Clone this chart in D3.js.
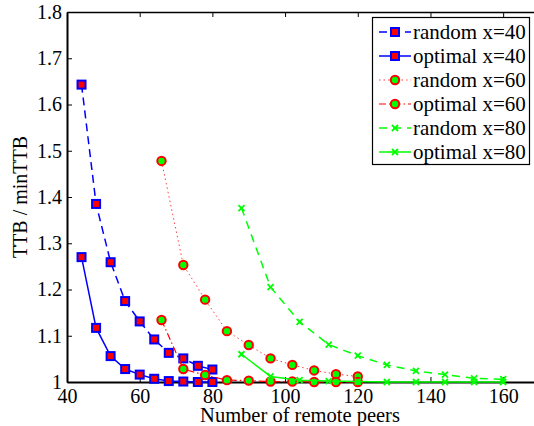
<!DOCTYPE html>
<html>
<head>
<meta charset="utf-8">
<script src="https://cdn.jsdelivr.net/npm/d3@7"></script>
<style>
  body { margin: 0; background: #fff; }
</style>
</head>
<body>
<div id="viz1"></div>
<script>
var width = 534;
var height = 426;
var serif = "'Liberation Serif', 'Times New Roman', Times, serif";

// x values (number of remote peers) for each x group
var peers40 = [44, 48, 52, 56, 60, 64, 68, 72, 76, 80];
var peers60 = [66, 72, 78, 84, 90, 96, 102, 108, 114, 120];
var peers80 = [88, 96, 104, 112, 120, 128, 136, 144, 152, 160];

// TTB / minTTB
var random40 = [1.643, 1.385, 1.259, 1.175, 1.131, 1.092, 1.063, 1.051, 1.035, 1.027];
var optimal40 = [1.270, 1.117, 1.056, 1.028, 1.016, 1.007, 1.002, 1.001, 1.000, 1.000];
var random60 = [1.478, 1.253, 1.178, 1.110, 1.080, 1.051, 1.037, 1.025, 1.017, 1.012];
var optimal60 = [1.134, 1.028, 1.015, 1.004, 1.003, 1.001, 1.001, 1.000, 1.000, 1.000];
var random80 = [1.376, 1.205, 1.130, 1.081, 1.057, 1.037, 1.024, 1.016, 1.008, 1.006];
var optimal80 = [1.060, 1.012, 1.004, 1.002, 1.001, 1.000, 1.000, 1.000, 1.000, 1.000];

var xTicks = [40, 60, 80, 100, 120, 140, 160];
var yTicks = [1, 1.1, 1.2, 1.3, 1.4, 1.5, 1.6, 1.7, 1.8];
var seriesNames = ["random x=40", "optimal x=40", "random x=60", "optimal x=60", "random x=80", "optimal x=80"];

var series = [
  { name: seriesNames[0], xs: peers40, ys: random40, color: "#0000ff", dash: "8,5", width: 1.5, marker: "square" },
  { name: seriesNames[1], xs: peers40, ys: optimal40, color: "#0000ff", dash: null, width: 1.5, marker: "square" },
  { name: seriesNames[2], xs: peers60, ys: random60, color: "#ff4040", dash: "1.5,3", width: 1, marker: "circle" },
  { name: seriesNames[3], xs: peers60, ys: optimal60, color: "#ff0000", dash: "7,3,1.5,3", width: 1.2, marker: "circle" },
  { name: seriesNames[4], xs: peers80, ys: random80, color: "#00ff00", dash: "8,6", width: 1.5, marker: "cross" },
  { name: seriesNames[5], xs: peers80, ys: optimal80, color: "#00ff00", dash: null, width: 1.5, marker: "cross" }
];

var margin = { left: 67, top: 12, bottom: 382 };

var x = d3.scaleLinear().domain([40, 170]).range([margin.left, 539.5]);
var y = d3.scaleLinear().domain([1, 1.8]).range([margin.bottom, margin.top]);

var svg = d3.select("#viz1")
  .append("svg")
    .attr("width", width)
    .attr("height", height)
    .attr("font-family", serif)
    .style("background-color", "#ffffff");

// axes, ticks pointing inwards like matlab
svg.append("g")
  .attr("transform", "translate(0," + margin.bottom + ")")
  .call(d3.axisBottom(x).tickValues(xTicks).tickSizeInner(-5).tickSizeOuter(0).tickPadding(7).tickFormat(d3.format("d")))
  .call(function(g) { g.select(".domain").attr("stroke-width", 2); });

svg.append("g")
  .attr("transform", "translate(0," + margin.top + ")")
  .call(d3.axisTop(x).tickValues(xTicks).tickSizeInner(-5).tickSizeOuter(0).tickFormat(""))
  .call(function(g) { g.select(".domain").attr("stroke-width", 1.5); });

svg.append("g")
  .attr("transform", "translate(" + margin.left + ",0)")
  .call(d3.axisLeft(y).tickValues(yTicks).tickSizeInner(-5).tickSizeOuter(0).tickPadding(5).tickFormat(function(d) { return d3.format("")(+d.toFixed(1)); }))
  .call(function(g) { g.select(".domain").attr("stroke-width", 2); });

svg.append("g")
  .attr("transform", "translate(" + x(170) + ",0)")
  .call(d3.axisRight(y).tickValues(yTicks).tickSizeInner(-5).tickSizeOuter(0).tickFormat(""))
  .call(function(g) { g.select(".domain").attr("stroke-width", 1.5); });

svg.selectAll("g").attr("font-family", serif);
svg.selectAll(".tick text")
  .attr("font-size", 20)
  .attr("font-family", serif)
  .attr("fill", "#000");

// axis titles
svg.append("text")
  .attr("x", 300)
  .attr("y", 422)
  .attr("text-anchor", "middle")
  .attr("font-family", serif)
  .attr("font-size", 20.5)
  .text("Number of remote peers");

svg.append("text")
  .attr("transform", "translate(27,197) rotate(-90)")
  .attr("text-anchor", "middle")
  .attr("font-family", serif)
  .attr("font-size", 20)
  .text("TTB / minTTB");

function drawMarker(g, type, cx, cy) {
  if (type == "square") {
    g.append("rect")
      .attr("x", cx - 4).attr("y", cy - 4)
      .attr("width", 8).attr("height", 8)
      .attr("fill", "#ff0000")
      .attr("stroke", "#0000ff")
      .attr("stroke-width", 2);
  } else if (type == "circle") {
    g.append("circle")
      .attr("cx", cx).attr("cy", cy).attr("r", 4.2)
      .attr("fill", "#00ff00")
      .attr("stroke", "#ff0000")
      .attr("stroke-width", 2);
  } else {
    g.append("path")
      .attr("d", "M" + (cx - 3) + "," + (cy - 3) + "L" + (cx + 3) + "," + (cy + 3) +
                 "M" + (cx - 3) + "," + (cy + 3) + "L" + (cx + 3) + "," + (cy - 3))
      .attr("stroke", "#00ff00")
      .attr("stroke-width", 1.8)
      .attr("fill", "none");
  }
}

var line = d3.line()
  .x(function(d) { return x(d[0]); })
  .y(function(d) { return y(d[1]); });

series.forEach(function(s) {
  var pts = s.xs.map(function(v, i) { return [v, s.ys[i]]; });
  var g = svg.append("g");
  g.append("path")
    .datum(pts)
    .attr("d", line)
    .attr("fill", "none")
    .attr("stroke", s.color)
    .attr("stroke-width", s.width)
    .attr("stroke-dasharray", s.dash);
  pts.forEach(function(p) {
    drawMarker(g, s.marker, x(p[0]), y(p[1]));
  });
});

// legend
var legend = svg.append("g");
legend.append("rect")
  .attr("x", 372.5).attr("y", 17.5)
  .attr("width", 157).attr("height", 147)
  .attr("fill", "#fff")
  .attr("stroke", "#000")
  .attr("stroke-width", 1.2);

series.forEach(function(s, i) {
  var cy = 32 + i * 24;
  legend.append("line")
    .attr("x1", 379).attr("x2", 411)
    .attr("y1", cy).attr("y2", cy)
    .attr("stroke", s.color)
    .attr("stroke-width", s.width)
    .attr("stroke-dasharray", s.dash);
  drawMarker(legend, s.marker, 395, cy);
  legend.append("text")
    .attr("x", 413)
    .attr("y", cy + 7)
    .attr("font-family", serif)
    .attr("font-size", 21)
    .text(s.name);
});
</script>
</body>
</html>
